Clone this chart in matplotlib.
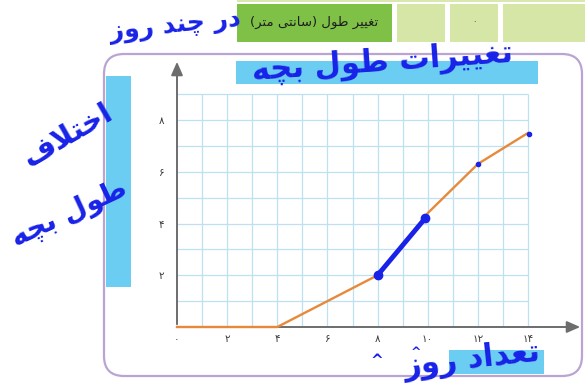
import matplotlib
matplotlib.use('Agg')
import matplotlib.pyplot as plt
from matplotlib.patches import Rectangle, FancyBboxPatch

# data
days = [0, 4, 6, 8, 10, 12, 14]
growth = [0, 0, 1, 2, 4.4, 6.3, 7.5]
x_ticks = [0, 2, 4, 6, 8, 10, 12, 14]
x_tick_labels = ['۰', '۲', '۴', '۶', '۸', '۱۰', '۱۲', '۱۴']
y_ticks = [2, 4, 6, 8]
y_tick_labels = ['۲', '۴', '۶', '۸']
marked_x = [8, 9.9]
marked_y = [2, 4.2]
dots_x = [12, 14.05]
dots_y = [6.3, 7.45]

header_text = 'تغییر طول (سانتی متر)'
note_top = 'در چند روز'
title_text = 'تغییرات طول بچه'
ylabel_1 = 'اختلاف'
ylabel_2 = 'طول بچه'
xlabel_text = 'تعداد روز'

# arabic letters -> (isolated, final, initial, medial), matplotlib does no shaping
FORMS = {
    'ا': ('\uFE8D', '\uFE8E', None, None),
    'ب': ('\uFE8F', '\uFE90', '\uFE91', '\uFE92'),
    'ت': ('\uFE95', '\uFE96', '\uFE97', '\uFE98'),
    'خ': ('\uFEA5', '\uFEA6', '\uFEA7', '\uFEA8'),
    'د': ('\uFEA9', '\uFEAA', None, None),
    'ر': ('\uFEAD', '\uFEAE', None, None),
    'ز': ('\uFEAF', '\uFEB0', None, None),
    'س': ('\uFEB1', '\uFEB2', '\uFEB3', '\uFEB4'),
    'ط': ('\uFEC1', '\uFEC2', '\uFEC3', '\uFEC4'),
    'ع': ('\uFEC9', '\uFECA', '\uFECB', '\uFECC'),
    'غ': ('\uFECD', '\uFECE', '\uFECF', '\uFED0'),
    'ف': ('\uFED1', '\uFED2', '\uFED3', '\uFED4'),
    'ل': ('\uFEDD', '\uFEDE', '\uFEDF', '\uFEE0'),
    'م': ('\uFEE1', '\uFEE2', '\uFEE3', '\uFEE4'),
    'ن': ('\uFEE5', '\uFEE6', '\uFEE7', '\uFEE8'),
    'ه': ('\uFEE9', '\uFEEA', '\uFEEB', '\uFEEC'),
    'و': ('\uFEED', '\uFEEE', None, None),
    'ی': ('\uFBFC', '\uFBFD', '\uFBFE', '\uFBFF'),
    'چ': ('\uFB7A', '\uFB7B', '\uFB7C', '\uFB7D'),
}
MIRROR = {'(': ')', ')': '('}


def shape(text):
    res = []
    i = 0
    n = len(text)
    while i < n:
        c = text[i]
        if c not in FORMS:
            res.append(MIRROR.get(c, c))
            i += 1
            continue
        prev = text[i - 1] if i > 0 else ''
        joins_prev = prev in FORMS and FORMS[prev][2] is not None
        if c == 'ل' and i + 1 < n and text[i + 1] == 'ا':
            res.append('\uFEFC' if joins_prev else '\uFEFB')
            i += 2
            continue
        nxt = text[i + 1] if i + 1 < n else ''
        joins_next = FORMS[c][2] is not None and nxt in FORMS
        iso, fin, ini, med = FORMS[c]
        if joins_prev and joins_next:
            res.append(med)
        elif joins_prev:
            res.append(fin)
        elif joins_next:
            res.append(ini)
        else:
            res.append(iso)
        i += 1
    return ''.join(reversed(res))


W, H = 585, 389
fig = plt.figure(figsize=(W / 100, H / 100), dpi=100)

# background layer in pixel coords
bg = fig.add_axes([0, 0, 1, 1], zorder=0)
bg.set_xlim(0, W)
bg.set_ylim(H, 0)
bg.axis('off')

bg.add_patch(Rectangle((237, -5), 348, 7, color='#d8e8ae', lw=0))
bg.add_patch(Rectangle((237, 4), 155, 38, color='#7fc147', lw=0))
for x0, w in [(397, 48), (450, 48), (503, 90)]:
    bg.add_patch(Rectangle((x0, 4), w, 38, color='#d5e6a6', lw=0))
bg.text(314, 22, shape(header_text), ha='center', va='center', fontsize=9.5,
        color='#1e1e1e', family='DejaVu Sans')
bg.text(474, 22, '۰', ha='center', va='center', fontsize=6, color='#333')

bg.add_patch(FancyBboxPatch((104, 54), 478, 322, boxstyle='round,pad=0,rounding_size=20',
                            fc='white', ec='#b9a4d4', lw=1.6))
bg.add_patch(Rectangle((236, 61), 302, 23, color='#6ccdf2', lw=0))
bg.add_patch(Rectangle((106, 76), 25, 211, color='#6ccdf2', lw=0))
bg.add_patch(Rectangle((449, 350), 95, 24, color='#6ccdf2', lw=0))

# chart
x0_px, y0_px = 177, 327
ux = (528 - 177) / 14
uy = (327 - 120) / 8
xmax = (583 - x0_px) / ux
ymax = (y0_px - 59) / uy
ax = fig.add_axes([x0_px / W, (H - y0_px) / H, xmax * ux / W, ymax * uy / H], zorder=1)
ax.set_xlim(0, xmax)
ax.set_ylim(0, ymax)
ax.patch.set_alpha(0)
for s in ax.spines.values():
    s.set_visible(False)

ax.vlines(range(1, 15), 0, 9, color='#bfe0f1', lw=0.9, zorder=1)
ax.hlines(range(1, 10), 0, 14, color='#bfe0f1', lw=0.9, zorder=1)

ax.annotate('', xy=(xmax, 0), xytext=(0, 0),
            arrowprops=dict(arrowstyle='-|>,head_length=0.8,head_width=0.35', color='#6d6d6d', lw=1.4),
            zorder=2, annotation_clip=False)
ax.annotate('', xy=(0, ymax), xytext=(0, 0),
            arrowprops=dict(arrowstyle='-|>,head_length=0.8,head_width=0.35', color='#6d6d6d', lw=1.4),
            zorder=2, annotation_clip=False)

ax.plot(days, growth, color='#e8893a', lw=1.7, zorder=3, clip_on=False)

ax.set_xticks(x_ticks)
ax.set_xticklabels(x_tick_labels)
ax.set_yticks(y_ticks)
ax.set_yticklabels(y_tick_labels)
ax.tick_params(length=0, labelsize=7.5, colors='#3a3a3a')
ax.tick_params(axis='x', pad=5)
ax.tick_params(axis='y', pad=9)

# blue pen marks
ink = '#1822e8'
ax.plot(marked_x, marked_y, color=ink, lw=3.5, solid_capstyle='round', zorder=4)
ax.plot(marked_x, marked_y, 'o', color=ink, ms=6, zorder=4)
ax.plot(dots_x, dots_y, 'o', color=ink, ms=3, zorder=4)

# handwriting layer
fg = fig.add_axes([0, 0, 1, 1], zorder=2)
fg.set_xlim(0, W)
fg.set_ylim(H, 0)
fg.axis('off')
fg.patch.set_alpha(0)

hw = dict(color=ink, fontweight='bold', family='DejaVu Sans', ha='center', va='center')
fg.text(175, 26, shape(note_top), fontsize=18, rotation=6, **hw)
fg.text(382, 62, shape(title_text), fontsize=22, rotation=4, **hw)
fg.text(68, 135, shape(ylabel_1), fontsize=21, rotation=30, **hw)
fg.text(70, 214, shape(ylabel_2), fontsize=20, rotation=25, **hw)
fg.text(472, 360, shape(xlabel_text), fontsize=22, rotation=6, **hw)
fg.text(377, 361, '^', fontsize=11, **hw)
fg.text(416, 352, '^', fontsize=9, **hw)

fig.savefig('out.png', dpi=100)
